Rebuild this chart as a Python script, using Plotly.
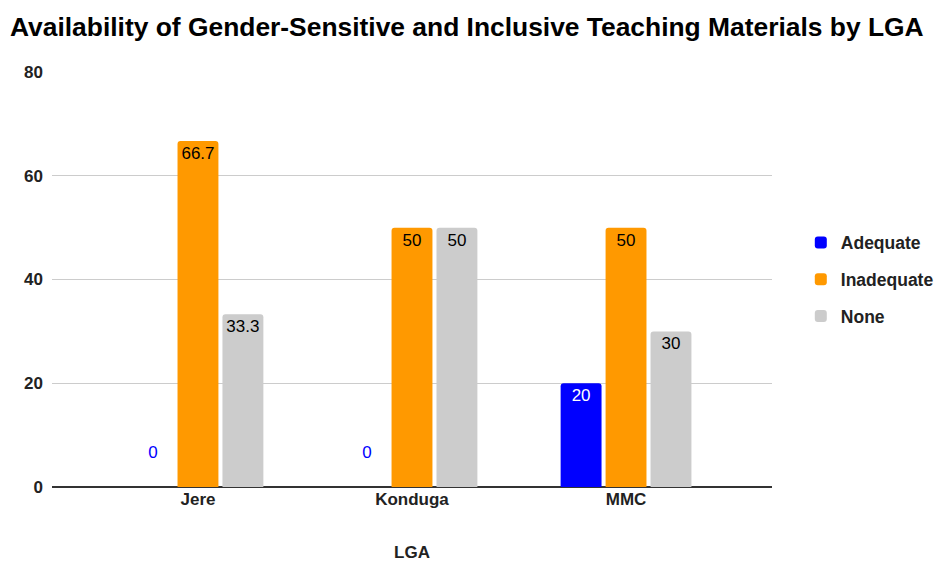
import plotly.graph_objects as go

LGAS = ["Jere", "Konduga", "MMC"]
ADEQUATE = [0, 0, 20]
INADEQUATE = [66.7, 50, 50]
NONE = [33.3, 50, 30]

SERIES = [
    ("Adequate", ADEQUATE, "#0000FF", "#FFFFFF"),
    ("Inadequate", INADEQUATE, "#FF9900", "#000000"),
    ("None", NONE, "#CCCCCC", "#000000"),
]

fig = go.Figure()
for name, vals, colour, txt in SERIES:
    # zero bars get their label above the baseline, in the series colour
    labels = [f"{v:g}<br> " if v == 0 else f"{v:g}" for v in vals]
    fig.add_trace(go.Bar(
        x=LGAS, y=vals, name=f"<b>{name}</b>", legendgroup=name,
        marker=dict(color=colour, line=dict(width=0)),
        text=labels, texttemplate="%{text}",
        textposition=["outside" if v == 0 else "inside" for v in vals],
        insidetextanchor="end",
        insidetextfont=dict(color=txt, size=17, family="Arial"),
        outsidetextfont=dict(color=colour, size=17, family="Arial"),
        textangle=0, cliponaxis=False,
    ))

# the page body has an 8px margin, so the figure is a bit smaller than the window
fig.update_layout(
    width=937, height=554,
    barmode="group", bargap=0.37, bargroupgap=0.09, barcornerradius=3,
    margin=dict(l=44, r=173, t=64, b=75, autoexpand=False),
    paper_bgcolor="white", plot_bgcolor="white",
    font=dict(family="Arial", color="#222222"),
    title=dict(
        text="<b>Availability of Gender-Sensitive and Inclusive Teaching Materials by LGA</b>",
        x=0, xref="container", xanchor="left", y=1 - 19 / 554, yref="container",
        yanchor="middle", pad=dict(l=2), font=dict(size=26.4, color="#000000"),
    ),
    legend=dict(
        x=1.04, xanchor="left", y=0.5, yanchor="middle",
        font=dict(size=17.5, color="#222222", family="Arial"),
        itemwidth=30, tracegroupgap=11,
    ),
)
fig.update_xaxes(
    range=[-0.682, 2.682], showgrid=False, ticks="", automargin=False,
    tickfont=dict(size=17, color="#222222"),
    title=dict(text="<b>LGA</b>", font=dict(size=17, color="#222222"), standoff=40),
    tickprefix="<b>", ticksuffix="</b>",
)
fig.update_yaxes(
    range=[0, 80], dtick=20, gridcolor="#CCCCCC", gridwidth=1, automargin=False,
    zeroline=True, zerolinecolor="#333333", zerolinewidth=1.5,
    tickfont=dict(size=17, color="#222222"), tickprefix="<b>", ticksuffix="</b>",
    ticklabelstandoff=8,
)

fig.write_html("out.html")
